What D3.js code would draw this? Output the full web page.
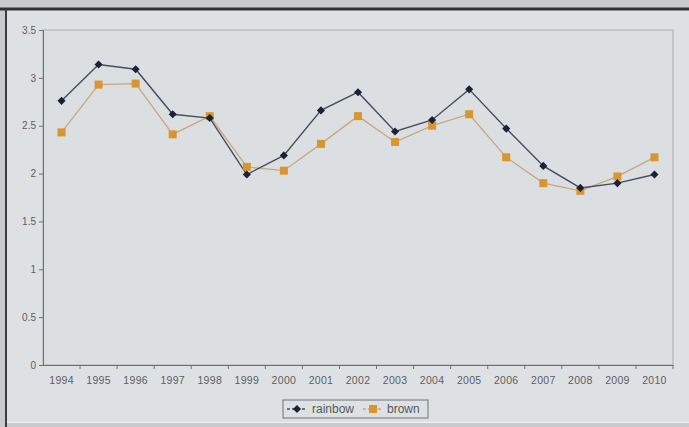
<!DOCTYPE html>
<html>
<head>
<meta charset="utf-8">
<script src="https://cdn.jsdelivr.net/npm/d3@7"></script>
<style>
  body { margin: 0; background: #c9cdd0; }
  svg { display: block; }
  text { font-family: "Liberation Sans", Arial, sans-serif; }
</style>
</head>
<body>
<div id="chart"></div>
<script>

var years = ["1994", "1995", "1996", "1997", "1998", "1999", "2000", "2001", "2002",
             "2003", "2004", "2005", "2006", "2007", "2008", "2009", "2010"];
var rainbow = [2.76, 3.14, 3.09, 2.62, 2.58, 1.99, 2.19, 2.66, 2.85,
               2.44, 2.56, 2.88, 2.47, 2.08, 1.85, 1.90, 1.99];
var brown = [2.43, 2.93, 2.94, 2.41, 2.60, 2.07, 2.03, 2.31, 2.60,
             2.33, 2.50, 2.62, 2.17, 1.90, 1.82, 1.97, 2.17];
var yTicks = [0, 0.5, 1, 1.5, 2, 2.5, 3, 3.5];

var width = 689, height = 427;
var margin = {top: 30, right: 16, bottom: 62, left: 43};

var svg = d3.select("#chart").append("svg")
    .attr("width", width)
    .attr("height", height);

// photo-ish frame around the chart
svg.append("rect").attr("x", 0).attr("y", 0).attr("width", width).attr("height", height)
    .attr("fill", "#c7cbce");
svg.append("rect").attr("x", 7).attr("y", 10).attr("width", width - 7).attr("height", 412)
    .attr("fill", "#dee1e4");
svg.append("line").attr("x1", 0).attr("x2", width).attr("y1", 9).attr("y2", 9)
    .attr("stroke", "#2f3336").attr("stroke-width", 3);
svg.append("line").attr("x1", 6).attr("x2", 6).attr("y1", 9).attr("y2", height)
    .attr("stroke", "#3a3e41").attr("stroke-width", 2);
svg.append("line").attr("x1", 7).attr("x2", width).attr("y1", 422.5).attr("y2", 422.5)
    .attr("stroke", "#eef0f1").attr("stroke-width", 1);

var x = d3.scaleBand()
    .domain(years)
    .range([margin.left, width - margin.right]);

var y = d3.scaleLinear()
    .domain([0, 3.5])
    .range([height - margin.bottom, margin.top]);

// plot area border
svg.append("rect")
    .attr("x", margin.left)
    .attr("y", margin.top)
    .attr("width", width - margin.left - margin.right)
    .attr("height", height - margin.top - margin.bottom)
    .attr("fill", "#dbdfe2")
    .attr("stroke", "#a9adb0")
    .attr("stroke-width", 1);

// y axis
var yAxis = svg.append("g")
    .attr("transform", "translate(" + margin.left + ",0)")
    .call(d3.axisLeft(y).tickValues(yTicks).tickSize(4).tickPadding(3)
        .tickFormat(function(d) { return String(d); }));
yAxis.select(".domain").attr("stroke", "#6e7275");
yAxis.selectAll(".tick line").attr("stroke", "#6e7275");
yAxis.selectAll("text").attr("fill", "#5a5e61").attr("font-size", 10);

// x axis, ticks on category boundaries
var xAxis = svg.append("g")
    .attr("transform", "translate(0," + (height - margin.bottom) + ")")
    .call(d3.axisBottom(x).tickSize(0).tickPadding(12));
xAxis.select(".domain").attr("stroke", "#6e7275");
xAxis.selectAll("text").attr("fill", "#5a5e61").attr("font-size", 10.5)
    .attr("letter-spacing", 0.3);
svg.append("g").selectAll("line")
    .data(years)
    .enter().append("line")
    .attr("x1", function(d) { return x(d) + x.bandwidth(); })
    .attr("x2", function(d) { return x(d) + x.bandwidth(); })
    .attr("y1", height - margin.bottom)
    .attr("y2", height - margin.bottom + 4)
    .attr("stroke", "#6e7275");

var line = d3.line()
    .x(function(d, i) { return x(years[i]) + x.bandwidth() / 2; })
    .y(function(d) { return y(d); });

// brown series
svg.append("path")
    .datum(brown)
    .attr("fill", "none")
    .attr("stroke", "#c6a87e")
    .attr("stroke-width", 1.3)
    .attr("d", line);

// rainbow series
svg.append("path")
    .datum(rainbow)
    .attr("fill", "none")
    .attr("stroke", "#474c60")
    .attr("stroke-width", 1.4)
    .attr("d", line);

svg.append("g").selectAll("rect")
    .data(brown)
    .enter().append("rect")
    .attr("x", function(d, i) { return x(years[i]) + x.bandwidth() / 2 - 4; })
    .attr("y", function(d) { return y(d) - 4; })
    .attr("width", 8)
    .attr("height", 8)
    .attr("fill", "#d9952f");

var diamond = d3.symbol().type(d3.symbolDiamond2).size(42);
svg.append("g").selectAll("path")
    .data(rainbow)
    .enter().append("path")
    .attr("d", diamond)
    .attr("transform", function(d, i) {
        return "translate(" + (x(years[i]) + x.bandwidth() / 2) + "," + y(d) + ")";
    })
    .attr("fill", "#1c2038");

// legend
var legend = svg.append("g").attr("transform", "translate(283,400)");
legend.append("rect")
    .attr("width", 145).attr("height", 18)
    .attr("fill", "#dee1e4")
    .attr("stroke", "#6e7275");
legend.append("line").attr("x1", 4).attr("x2", 24).attr("y1", 9).attr("y2", 9)
    .attr("stroke", "#474c60").attr("stroke-width", 1.4).attr("stroke-dasharray", "3,2");
legend.append("path").attr("d", diamond)
    .attr("transform", "translate(14,9)").attr("fill", "#1c2038");
legend.append("text").attr("x", 29).attr("y", 13)
    .attr("font-size", 12).attr("fill", "#55595c").text("rainbow");
legend.append("line").attr("x1", 80).attr("x2", 100).attr("y1", 9).attr("y2", 9)
    .attr("stroke", "#c6a87e").attr("stroke-width", 1.3).attr("stroke-dasharray", "3,2");
legend.append("rect").attr("x", 86).attr("y", 5).attr("width", 8).attr("height", 8)
    .attr("fill", "#d9952f");
legend.append("text").attr("x", 104).attr("y", 13)
    .attr("font-size", 12).attr("fill", "#55595c").text("brown");

</script>
</body>
</html>
